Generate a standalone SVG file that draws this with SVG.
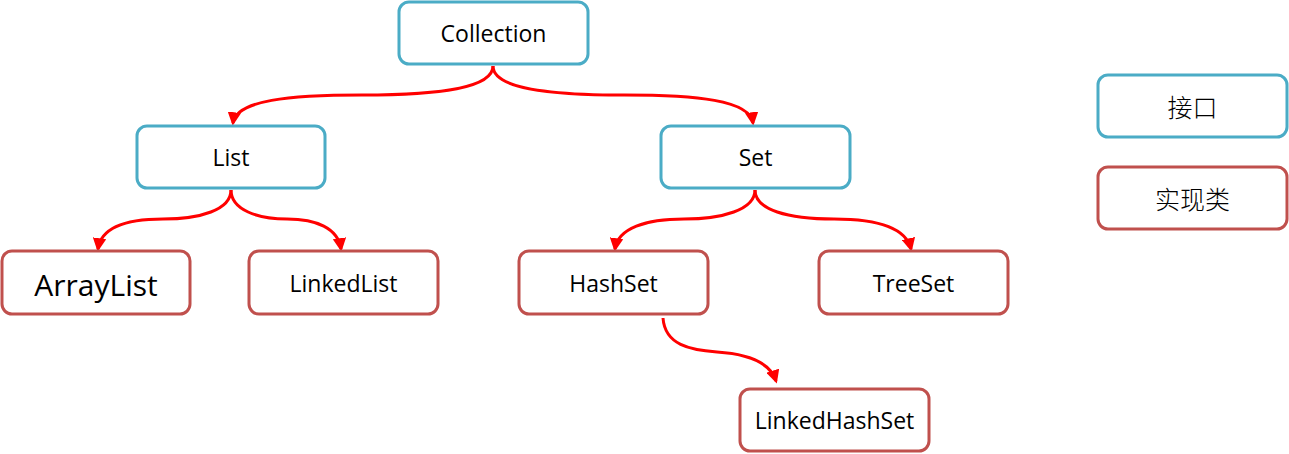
<svg xmlns="http://www.w3.org/2000/svg" width="1289" height="454" viewBox="0 0 1289 454">
<style>
.iface{fill:#fff;stroke:#4BACC6;stroke-width:3}
.impl{fill:#fff;stroke:#C0504D;stroke-width:3}
.t{font-family:"Open Sans","Noto Sans",sans-serif;font-size:23px;fill:#000;text-anchor:middle;dominant-baseline:central}
.cjk{font-family:"Noto Sans CJK SC",sans-serif;font-size:25px;font-weight:300;fill:#000;text-anchor:middle;dominant-baseline:central}
.c{fill:none;stroke:#FF0000;stroke-width:3;marker-end:url(#ah)}
</style>
<defs>
<marker id="ah" viewBox="0 0 10 10" refX="8" refY="5" markerWidth="4.5" markerHeight="4.5" orient="auto" markerUnits="strokeWidth">
<path d="M0,0 L10,5 L0,10 z" fill="#FF0000"/>
</marker>
</defs>
<g id="connectors">
<path class="c" d="M493,66 C493,88 440,95 362,95 C290,95 236,100 233,123"/>
<path class="c" d="M493,66 C493,88 546,95 624,95 C696,95 750,100 753,123"/>
<path class="c" d="M231,190 C231,210 200,219 163,219 C126,219 101,228 98,249"/>
<path class="c" d="M231,190 C231,210 258,219 287,219 C316,219 338,228 341,249"/>
<path class="c" d="M755,190 C755,210 722,219 684,219 C646,219 618,228 615,249"/>
<path class="c" d="M755,190 C755,210 788,219 834,219 C878,219 906,228 911,249"/>
<path class="c" d="M663,318 C665,345 690,350 717,352 C748,354 770,362 776,381"/>
</g>
<g id="collection"><rect class="iface" x="399" y="2" width="189" height="62" rx="10"/><text class="t" x="493.5" y="33">Collection</text></g>
<g id="list"><rect class="iface" x="137" y="126" width="188" height="62" rx="10"/><text class="t" x="231" y="157">List</text></g>
<g id="set"><rect class="iface" x="661" y="126" width="189" height="62" rx="10"/><text class="t" x="755.5" y="157">Set</text></g>
<g id="arraylist"><rect class="impl" x="2" y="251" width="188" height="63" rx="10"/><text class="t" x="96" y="284" style="font-size:30px">ArrayList</text></g>
<g id="linkedlist"><rect class="impl" x="249" y="251" width="189" height="63" rx="10"/><text class="t" x="343.5" y="283">LinkedList</text></g>
<g id="hashset"><rect class="impl" x="519" y="251" width="189" height="63" rx="10"/><text class="t" x="613.5" y="283">HashSet</text></g>
<g id="treeset"><rect class="impl" x="819" y="251" width="189" height="63" rx="10"/><text class="t" x="913.5" y="283">TreeSet</text></g>
<g id="linkedhashset"><rect class="impl" x="740" y="389" width="189" height="62" rx="10"/><text class="t" x="834.5" y="420">LinkedHashSet</text></g>
<g id="legend-interface"><rect class="iface" x="1098" y="75" width="189" height="62" rx="10"/><text class="cjk" x="1192.5" y="106">接口</text></g>
<g id="legend-impl"><rect class="impl" x="1098" y="167" width="189" height="62" rx="10"/><text class="cjk" x="1192.5" y="198">实现类</text></g>
</svg>
